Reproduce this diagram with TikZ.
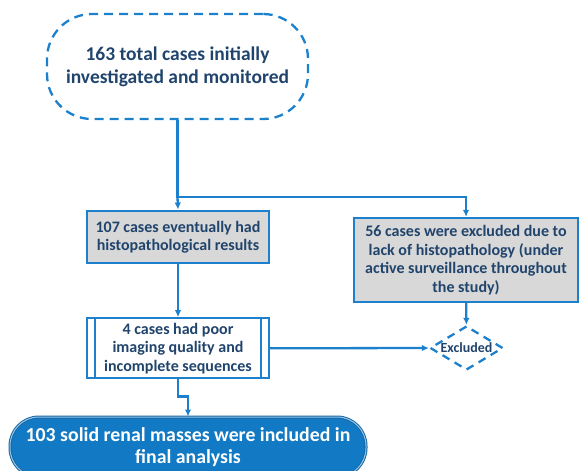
\documentclass[tikz,border=0pt]{standalone}
\usepackage{fontspec}
\setmainfont{Carlito}
\usepackage{tikz}
\usetikzlibrary{arrows.meta,positioning,calc,shapes.geometric}
\definecolor{fcedge}{RGB}{28,128,205}
\definecolor{fcgray}{RGB}{216,216,216}
\definecolor{fcink}{RGB}{32,68,108}
\definecolor{fcfill}{RGB}{18,122,196}
\definecolor{fcrim}{RGB}{150,200,236}
\tikzset{
  fcbox/.style={
    draw=fcedge, line width=2.3pt, align=center, inner sep=2pt,
    text=fcink, font=\fontsize{16}{18.5}\selectfont\bfseries
  },
  graybox/.style={fcbox, fill=fcgray},
  procbox/.style={fcbox, fill=white},
  startbox/.style={
    fcbox, dashed, dash pattern=on 9pt off 6pt, rounded corners=45pt,
    font=\fontsize{19.5}{23}\selectfont\bfseries
  },
  endbox/.style={
    draw=fcedge!80!black, line width=1pt, double=fcrim, double distance=1pt,
    fill=fcfill, rounded corners=29pt, align=center, text=white,
    font=\fontsize{19.8}{21.5}\selectfont\bfseries
  },
  exbox/.style={
    diamond, draw=fcedge, line width=2.3pt, dashed, dash pattern=on 8pt off 6pt,
    inner sep=0pt, minimum width=73pt, minimum height=44pt
  },
  extext/.style={text=fcink, font=\fontsize{14}{16}\selectfont\bfseries},
  arr/.style={-{Latex[length=7pt,width=6.5pt]}, draw=fcedge, line width=2.3pt},
  line/.style={draw=fcedge, line width=2.3pt}
}
\begin{document}
\begin{tikzpicture}[x=1pt,y=-1pt]
  \useasboundingbox (0,0) rectangle (579,471);
  \node[startbox, minimum width=261pt, minimum height=105pt] (start) at (177.5,66.5)
    {163 total cases initially\\investigated and monitored};
  \node[graybox, minimum width=182pt, minimum height=52.6pt] (hist) at (178,237)
    {107 cases eventually had\\histopathological results};
  \node[graybox, minimum width=224pt, minimum height=84pt] (nohist) at (466,260)
    {56 cases were excluded due to\\lack of histopathology (under\\active surveillance throughout\\the study)};
  \node[procbox, minimum width=182pt, minimum height=60pt] (poor) at (178,348.3)
    {4 cases had poor\\imaging quality and\\incomplete sequences};
  \node[exbox] (excl) at (466.5,348) {};
  \node[extext] (excltext) at (excl.center) {Excluded};
  \node[endbox, minimum width=356pt, minimum height=60pt] (final) at (188,447)
    {103 solid renal masses were included in\\final analysis};
  % inner bars of the process box
  \draw[line] ([xshift=9pt]poor.north west) -- ([xshift=9pt]poor.south west);
  \draw[line] ([xshift=-9pt]poor.north east) -- ([xshift=-9pt]poor.south east);
  \coordinate (split) at (start.south |- 0,197);
  \draw[arr] (start.south) -- (split) -| (nohist.north);
  \draw[arr] (split) -- (hist.north);
  \draw[arr] (hist) -- (poor);
  \draw[arr] (nohist) -- (excl);
  \draw[arr] (poor.east) -- (excl.west);
  \draw[arr] (poor.south) -- ++(0,17) -| (final.north);
\end{tikzpicture}
\end{document}
